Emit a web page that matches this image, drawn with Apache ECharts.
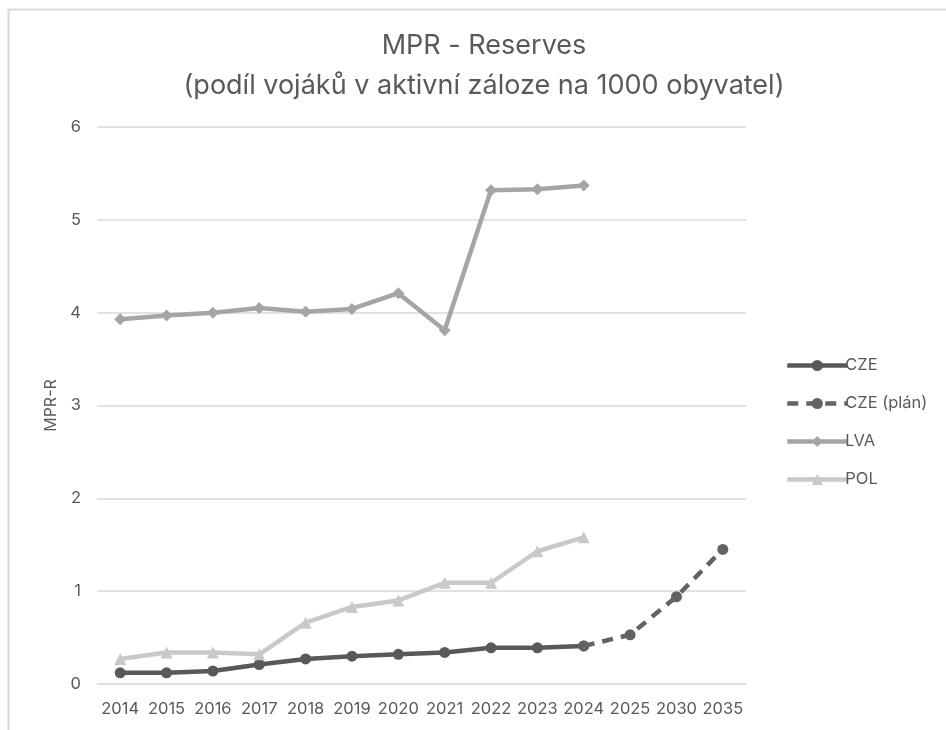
<!DOCTYPE html>
<html><head><meta charset="utf-8">
<script src="https://cdn.jsdelivr.net/npm/echarts@6/dist/echarts.min.js"></script>
<style>html,body{margin:0;padding:0;background:#fff}#c{width:946px;height:730px}</style>
</head><body><div id="c"></div>
<script>
const categories = ['2014','2015','2016','2017','2018','2019','2020','2021','2022','2023','2024','2025','2030','2035'];
const cze = [0.12,0.12,0.14,0.21,0.27,0.30,0.32,0.34,0.39,0.39,0.41,null,null,null];
const czePlan = [null,null,null,null,null,null,null,null,null,null,0.41,0.53,0.94,1.45];
const lva = [3.93,3.97,4.00,4.05,4.01,4.04,4.21,3.81,5.32,5.33,5.37,null,null,null];
const pol = [0.27,0.34,0.34,0.32,0.66,0.83,0.90,1.09,1.09,1.43,1.58,null,null,null];
const yTicks = {min:0, max:6, interval:1};

const chart = echarts.init(document.getElementById('c'), null, {renderer:'canvas'});
const font = 'Inter';
const txt = '#595959';
chart.setOption({
  animation:false,
  backgroundColor:'#fff',
  graphic:[{type:'rect', shape:{x:8.5,y:9.5,width:960,height:760}, style:{fill:'none', stroke:'#d9d9d9', lineWidth:2}, silent:true}],
  title:{
    text:'MPR - Reserves\n(podíl vojáků v aktivní záloze na 1000 obyvatel)',
    left:479, top:21, textAlign:'center',
    textStyle:{fontFamily:font, fontSize:27, fontWeight:'normal', color:txt, lineHeight:40}
  },
  grid:{left:97, right:200, top:127, bottom:46, containLabel:false},
  legend:{
    orient:'vertical', left:780, top:352, itemWidth:60, itemHeight:14, itemGap:21,
    textStyle:{fontFamily:font, fontSize:16.5, color:txt, padding:[0,0,0,-7]},
    lineStyle:{width:4.5},
    data:['CZE','CZE (plán)','LVA','POL']
  },
  xAxis:{
    type:'category', data:categories, boundaryGap:true,
    axisLine:{show:true, lineStyle:{color:'#d9d9d9', width:1}},
    axisTick:{show:false},
    axisLabel:{fontFamily:font, fontSize:16.5, color:txt, margin:17, interval:0}
  },
  yAxis:{
    type:'value', min:yTicks.min, max:yTicks.max, interval:yTicks.interval,
    name:'MPR-R', nameLocation:'middle', nameGap:38, nameRotate:90,
    nameTextStyle:{fontFamily:font, fontSize:16, color:txt},
    axisLine:{show:false}, axisTick:{show:false},
    axisLabel:{fontFamily:font, fontSize:16.5, color:txt, margin:16},
    splitLine:{lineStyle:{color:'#d9d9d9', width:1.5}}
  },
  series:[
    {name:'CZE', type:'line', data:cze, color:'#595959', symbol:'circle', symbolSize:11,
     lineStyle:{width:4.5, color:'#595959'}, itemStyle:{color:'#595959'}},
    {name:'CZE (plán)', type:'line', data:czePlan, color:'#636363', symbol:'circle', symbolSize:11,
     lineStyle:{width:4.5, color:'#636363', type:[11,8]}, itemStyle:{color:'#636363'}},
    {name:'LVA', type:'line', data:lva, color:'#a5a5a5', symbol:'diamond', symbolSize:12,
     lineStyle:{width:4.5, color:'#a5a5a5'}, itemStyle:{color:'#a5a5a5'}},
    {name:'POL', type:'line', data:pol, color:'#c9c9c9', symbol:'triangle', symbolSize:12,
     lineStyle:{width:4.5, color:'#c9c9c9'}, itemStyle:{color:'#c9c9c9'}}
  ]
});
</script></body></html>
